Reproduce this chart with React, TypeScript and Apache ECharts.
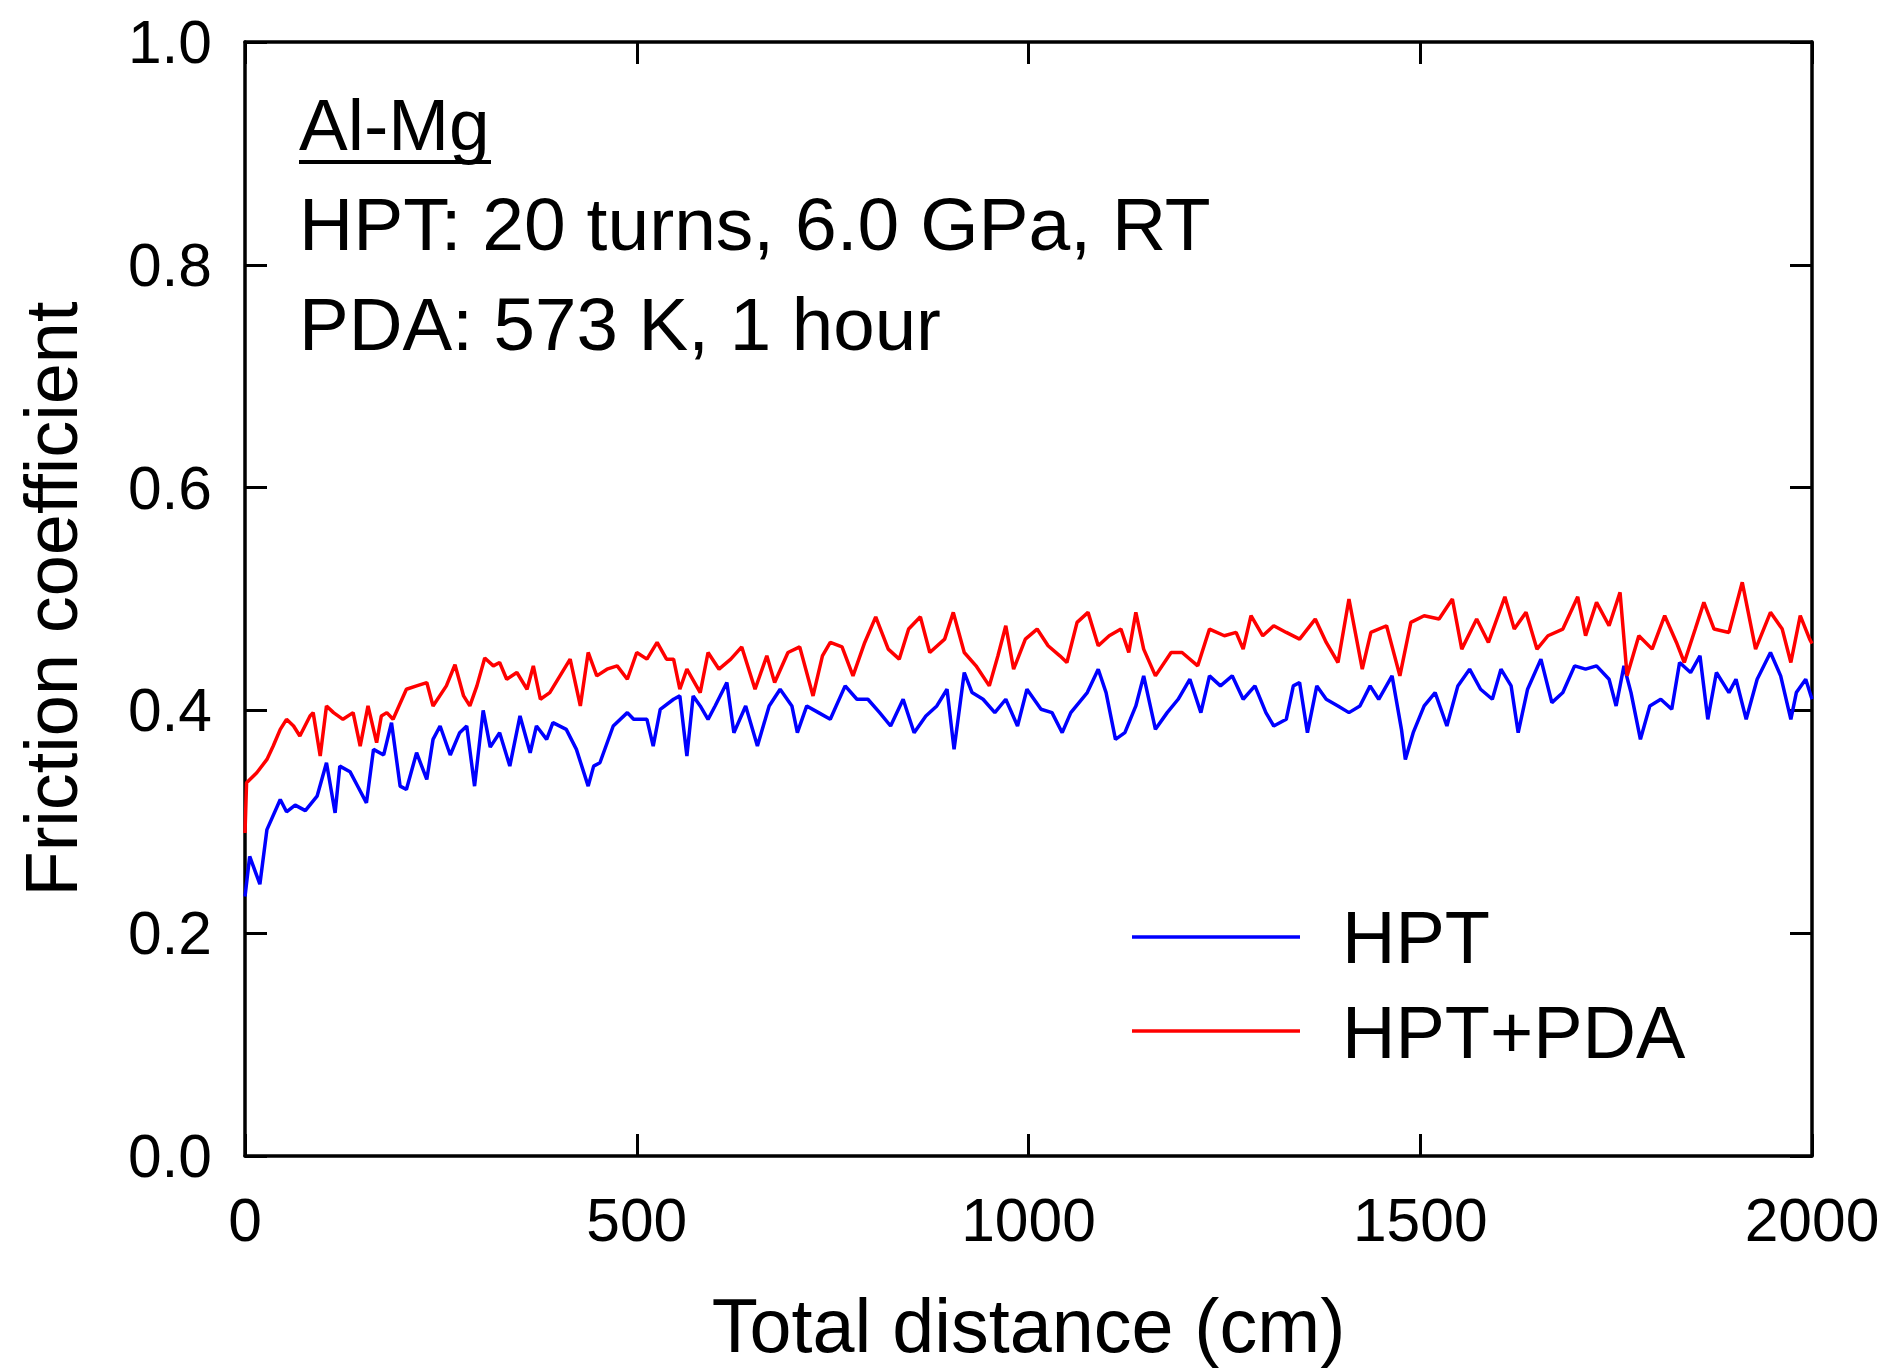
import React, { useEffect, useRef } from 'react';
import * as echarts from 'echarts';

const FONT = '"Liberation Sans", Arial, Helvetica, sans-serif';

const xTickLabels = ['0', '500', '1000', '1500', '2000'];
const yTickLabels = ['0.0', '0.2', '0.4', '0.6', '0.8', '1.0'];

const legendNames = ['HPT', 'HPT+PDA'];
const annotationLines = ['Al-Mg', 'HPT: 20 turns, 6.0 GPa, RT', 'PDA: 573 K, 1 hour'];

// HPT: [distance (cm), friction coefficient]
const hptPoints: [number, number][] = [
  [0, 0.233], [6, 0.269], [19, 0.244], [28, 0.293], [45, 0.32], [53, 0.309], [64, 0.315], [77, 0.31],
  [92, 0.323], [104, 0.353], [115, 0.308], [121, 0.35], [134, 0.345], [143, 0.333], [155, 0.317],
  [164, 0.365], [177, 0.36], [187, 0.389], [198, 0.332], [206, 0.329], [219, 0.362], [232, 0.338],
  [240, 0.374], [249, 0.386], [262, 0.36], [274, 0.38], [283, 0.386], [293, 0.332], [304, 0.4],
  [313, 0.367], [325, 0.38], [338, 0.35], [351, 0.395], [364, 0.362], [372, 0.386], [385, 0.374],
  [393, 0.389], [410, 0.383], [423, 0.365], [438, 0.332], [445, 0.35], [453, 0.353], [470, 0.386],
  [488, 0.398], [496, 0.392], [513, 0.392], [521, 0.368], [530, 0.401], [547, 0.41], [555, 0.413],
  [564, 0.359], [572, 0.413], [581, 0.404], [591, 0.392], [600, 0.404], [615, 0.425], [624, 0.38],
  [639, 0.404], [654, 0.368], [669, 0.404], [683, 0.419], [698, 0.404], [705, 0.38], [717, 0.404],
  [732, 0.398], [747, 0.392], [766, 0.422], [781, 0.41], [795, 0.41], [810, 0.398], [824, 0.386],
  [840, 0.41], [854, 0.38], [869, 0.395], [883, 0.404], [896, 0.419], [905, 0.365], [918, 0.434],
  [928, 0.416], [942, 0.41], [957, 0.398], [971, 0.41], [986, 0.386], [998, 0.419], [1016, 0.401],
  [1030, 0.398], [1043, 0.38], [1054, 0.398], [1075, 0.416], [1089, 0.437], [1099, 0.416],
  [1111, 0.374], [1123, 0.38], [1137, 0.404], [1147, 0.431], [1162, 0.383], [1177, 0.398],
  [1191, 0.41], [1206, 0.428], [1220, 0.398], [1231, 0.431], [1245, 0.422], [1260, 0.431],
  [1274, 0.41], [1289, 0.422], [1303, 0.398], [1313, 0.386], [1329, 0.392], [1338, 0.422],
  [1346, 0.425], [1356, 0.38], [1368, 0.422], [1380, 0.41], [1395, 0.404], [1409, 0.398],
  [1423, 0.404], [1436, 0.422], [1447, 0.41], [1464, 0.431], [1476, 0.383], [1481, 0.356],
  [1491, 0.38], [1505, 0.404], [1519, 0.416], [1534, 0.386], [1548, 0.422], [1563, 0.437],
  [1577, 0.419], [1592, 0.41], [1603, 0.437], [1616, 0.422], [1625, 0.38], [1637, 0.419],
  [1654, 0.446], [1668, 0.407], [1682, 0.416], [1697, 0.44], [1711, 0.437], [1725, 0.44],
  [1741, 0.428], [1750, 0.404], [1760, 0.44], [1769, 0.416], [1781, 0.374], [1793, 0.404],
  [1807, 0.41], [1821, 0.401], [1831, 0.443], [1845, 0.434], [1857, 0.449], [1867, 0.392],
  [1878, 0.434], [1894, 0.416], [1903, 0.428], [1916, 0.392], [1930, 0.428], [1947, 0.452],
  [1960, 0.431], [1973, 0.392], [1980, 0.416], [1992, 0.428], [2000, 0.41],
];

// HPT+PDA: [distance (cm), friction coefficient]
const hptPdaPoints: [number, number][] = [
  [0, 0.29], [2, 0.335], [15, 0.344], [28, 0.356], [36, 0.368], [45, 0.383], [53, 0.392], [62, 0.386],
  [70, 0.377], [83, 0.395], [87, 0.398], [96, 0.359], [104, 0.404], [113, 0.398], [125, 0.392],
  [138, 0.398], [147, 0.368], [157, 0.404], [168, 0.371], [174, 0.395], [181, 0.398], [189, 0.392],
  [206, 0.419], [219, 0.422], [232, 0.425], [240, 0.404], [257, 0.422], [268, 0.441], [279, 0.413],
  [287, 0.404], [296, 0.422], [306, 0.447], [317, 0.44], [325, 0.443], [334, 0.428], [347, 0.434],
  [360, 0.419], [368, 0.44], [377, 0.41], [389, 0.416], [402, 0.431], [415, 0.446], [428, 0.404],
  [438, 0.452], [449, 0.431], [462, 0.437], [475, 0.44], [488, 0.428], [500, 0.452], [513, 0.446],
  [526, 0.461], [538, 0.446], [547, 0.446], [555, 0.419], [564, 0.437], [581, 0.416], [591, 0.452],
  [605, 0.437], [620, 0.446], [634, 0.457], [651, 0.419], [666, 0.449], [676, 0.425], [693, 0.452],
  [708, 0.457], [725, 0.413], [737, 0.449], [747, 0.461], [762, 0.457], [776, 0.431], [791, 0.461],
  [805, 0.484], [821, 0.455], [835, 0.446], [847, 0.473], [862, 0.484], [874, 0.452], [893, 0.464],
  [904, 0.488], [918, 0.452], [933, 0.44], [950, 0.422], [961, 0.449], [971, 0.476], [981, 0.437],
  [996, 0.464], [1011, 0.473], [1025, 0.458], [1040, 0.449], [1049, 0.443], [1062, 0.479],
  [1076, 0.488], [1089, 0.458], [1103, 0.467], [1118, 0.473], [1128, 0.452], [1137, 0.488],
  [1147, 0.455], [1162, 0.431], [1182, 0.452], [1196, 0.452], [1216, 0.44], [1231, 0.473],
  [1250, 0.467], [1265, 0.47], [1274, 0.455], [1284, 0.485], [1299, 0.467], [1313, 0.476],
  [1329, 0.47], [1346, 0.464], [1366, 0.482], [1380, 0.461], [1395, 0.443], [1409, 0.5],
  [1426, 0.437], [1437, 0.47], [1457, 0.476], [1474, 0.431], [1488, 0.479], [1505, 0.485],
  [1524, 0.482], [1541, 0.5], [1553, 0.455], [1572, 0.482], [1587, 0.461], [1608, 0.502],
  [1620, 0.473], [1635, 0.488], [1649, 0.455], [1663, 0.467], [1682, 0.473], [1701, 0.502],
  [1711, 0.467], [1725, 0.497], [1741, 0.476], [1755, 0.506], [1764, 0.431], [1779, 0.467],
  [1796, 0.455], [1812, 0.485], [1827, 0.461], [1837, 0.443], [1851, 0.473], [1862, 0.497],
  [1875, 0.473], [1894, 0.47], [1911, 0.515], [1928, 0.455], [1947, 0.488], [1962, 0.473],
  [1973, 0.443], [1985, 0.485], [1997, 0.464], [2000, 0.46],
];

const BLUE = '#0000ff';
const RED = '#ff0000';
const INK = '#000000';

export default function App() {
  const ref = useRef<HTMLDivElement>(null);

  useEffect(() => {
    if (!ref.current) return;
    const chart = echarts.init(ref.current, null, { renderer: 'svg' });

    const axisLine = { show: true, lineStyle: { color: INK, width: 3.5 } };
    const axisTick = { show: true, inside: true, length: 22, lineStyle: { color: INK, width: 3 } };

    const xLabel = (v: number) => xTickLabels[Math.round(v / 500)] ?? '';
    const yLabel = (v: number) => yTickLabels[Math.round(v / 0.2)] ?? '';

    const annoStyle = { fill: INK, fontSize: 74.5, fontFamily: FONT, verticalAlign: 'middle', align: 'left' };

    chart.setOption({
      animation: false,
      backgroundColor: '#ffffff',
      grid: { left: 245, top: 42, width: 1567, height: 1115, containLabel: false },
      xAxis: [
        {
          type: 'value', position: 'bottom', min: 0, max: 2000, interval: 500,
          axisLine: { ...axisLine, onZero: false }, axisTick, splitLine: { show: false },
          axisLabel: { show: true, formatter: xLabel, color: INK, fontSize: 60.5, fontFamily: FONT, margin: 33 },
          name: 'Total distance (cm)', nameLocation: 'middle', nameGap: 132,
          nameTextStyle: { color: INK, fontSize: 75.5, fontFamily: FONT },
        },
        {
          type: 'value', position: 'top', min: 0, max: 2000, interval: 500,
          axisLine: { ...axisLine, onZero: false }, axisTick, splitLine: { show: false },
          axisLabel: { show: false },
        },
      ],
      yAxis: [
        {
          type: 'value', position: 'left', min: 0, max: 1, interval: 0.2,
          axisLine: { ...axisLine, onZero: false }, axisTick, splitLine: { show: false },
          axisLabel: { show: true, formatter: yLabel, color: INK, fontSize: 60.5, fontFamily: FONT, margin: 33 },
          name: 'Friction coefficient', nameLocation: 'middle', nameGap: 157,
          nameTextStyle: { color: INK, fontSize: 74, fontFamily: FONT },
        },
        {
          type: 'value', position: 'right', min: 0, max: 1, interval: 0.2,
          axisLine: { ...axisLine, onZero: false }, axisTick, splitLine: { show: false },
          axisLabel: { show: false },
        },
      ],
      series: [
        {
          name: legendNames[0], type: 'line', xAxisIndex: 0, yAxisIndex: 0,
          data: hptPoints, showSymbol: false, symbol: 'none',
          lineStyle: { color: BLUE, width: 3.5 }, itemStyle: { color: BLUE },
        },
        {
          name: legendNames[1], type: 'line', xAxisIndex: 0, yAxisIndex: 0,
          data: hptPdaPoints, showSymbol: false, symbol: 'none',
          lineStyle: { color: RED, width: 3.5 }, itemStyle: { color: RED },
        },
      ],
      graphic: [
        { type: 'text', x: 299, y: 124, style: { ...annoStyle, text: annotationLines[0], fontSize: 73 } },
        { type: 'line', shape: { x1: 299, y1: 162, x2: 491, y2: 162 }, style: { stroke: INK, lineWidth: 4 } },
        { type: 'text', x: 299, y: 224, style: { ...annoStyle, text: annotationLines[1], fontSize: 75 } },
        { type: 'text', x: 299, y: 324, style: { ...annoStyle, text: annotationLines[2] } },
        { type: 'line', shape: { x1: 1132, y1: 937, x2: 1300, y2: 937 }, style: { stroke: BLUE, lineWidth: 3.5 } },
        { type: 'text', x: 1342, y: 937, style: { ...annoStyle, text: legendNames[0], fontSize: 74 } },
        { type: 'line', shape: { x1: 1132, y1: 1031, x2: 1300, y2: 1031 }, style: { stroke: RED, lineWidth: 3.5 } },
        { type: 'text', x: 1342, y: 1032, style: { ...annoStyle, text: legendNames[1], fontSize: 74 } },
      ],
    });

    return () => chart.dispose();
  }, []);

  return (
    <div
      ref={ref}
      style={{ position: 'absolute', left: 0, top: 0, width: 1888, height: 1369, background: '#ffffff' }}
    />
  );
}
